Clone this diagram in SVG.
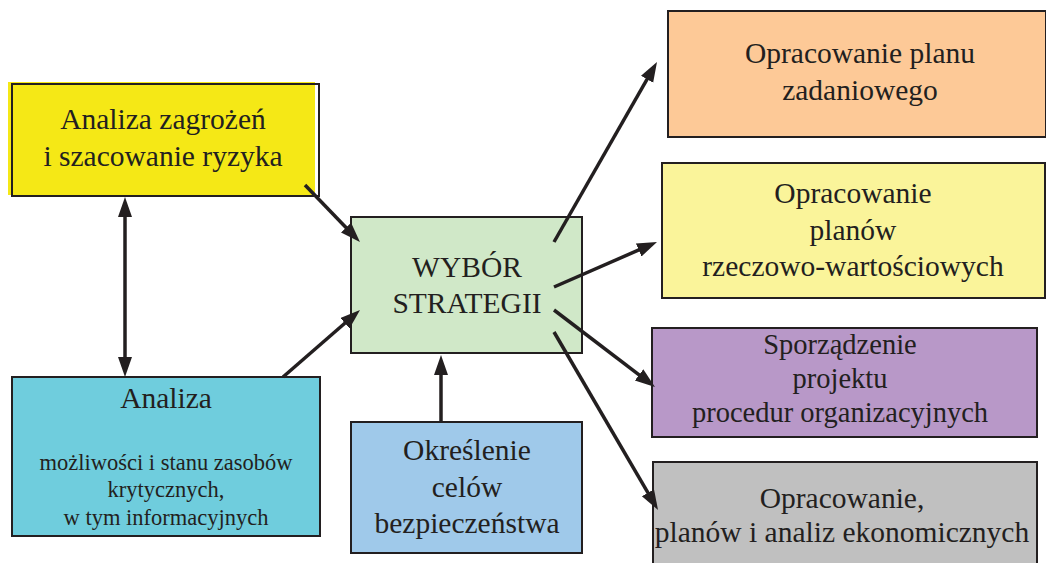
<svg xmlns="http://www.w3.org/2000/svg" width="1046" height="563" viewBox="0 0 1046 563">
<style>
.box{stroke:#231F20;stroke-width:2}
.t{font-family:"Liberation Serif","Times New Roman",serif;font-size:29.5px;fill:#231F20;text-anchor:middle}
.p{font-size:28.5px}
.s{font-family:"Liberation Serif","Times New Roman",serif;font-size:22.5px;fill:#231F20;text-anchor:middle}
.c{fill:none;stroke:#231F20;stroke-width:3.5}
</style>
<defs>
<marker id="ah" markerUnits="userSpaceOnUse" markerWidth="22" markerHeight="16" refX="12" refY="7" orient="auto-start-reverse">
<path d="M0,0 L20,7 L0,14 z" fill="#231F20"/>
</marker>
</defs>
<rect width="1046" height="563" fill="#fff"/>
<g id="n-analiza-zagrozen">
<rect x="8" y="82" width="307" height="113" fill="#F5E816"/>
<rect x="12" y="84" width="307" height="112" fill="none" class="box"/>
<text class="t" x="163" y="129">Analiza zagrożeń</text>
<text class="t" x="163" y="166">i szacowanie ryzyka</text>
</g>
<g id="n-analiza-mozliwosci">
<rect class="box" x="12" y="377" width="308" height="159" fill="#6FCDDD"/>
<text class="t" x="166" y="408">Analiza</text>
<text class="s" x="166" y="470">możliwości i stanu zasobów</text>
<text class="s" x="166" y="497">krytycznych,</text>
<text class="s" x="166" y="525">w tym informacyjnych</text>
</g>
<g id="n-wybor">
<rect class="box" x="351" y="217" width="231" height="136" fill="#D0E8C8"/>
<text class="t" x="467" y="277">WYBÓR</text>
<text class="t" x="467" y="313">STRATEGII</text>
</g>
<g id="n-okreslenie">
<rect class="box" x="351" y="422" width="231" height="131" fill="#9FC9EA"/>
<text class="t" x="467" y="460">Określenie</text>
<text class="t" x="467" y="497">celów</text>
<text class="t" x="467" y="533">bezpieczeństwa</text>
</g>
<g id="n-plan-zadaniowy">
<rect class="box" x="668" y="11" width="378" height="126" fill="#FDC997"/>
<text class="t" x="860" y="63">Opracowanie planu</text>
<text class="t" x="860" y="100">zadaniowego</text>
</g>
<g id="n-plany-rzeczowe">
<rect class="box" x="662" y="163" width="383" height="135" fill="#FAF49A"/>
<text class="t" x="853" y="203">Opracowanie</text>
<text class="t" x="853" y="240">planów</text>
<text class="t" x="853" y="276">rzeczowo-wartościowych</text>
</g>
<g id="n-procedury">
<rect class="box" x="652" y="328" width="385" height="109" fill="#B898C8"/>
<text class="t p" x="840" y="354">Sporządzenie</text>
<text class="t p" x="840" y="388">projektu</text>
<text class="t p" x="840" y="422">procedur organizacyjnych</text>
</g>
<g id="n-ekonomiczne">
<rect class="box" x="653" y="462" width="384" height="110" fill="#C0C0C0"/>
<text class="t" x="842" y="508">Opracowanie,</text>
<text class="t" x="842" y="542">planów i analiz ekonomicznych</text>
</g>
<g id="connectors">
<line class="c" x1="305" y1="185" x2="354.4" y2="236.2" marker-end="url(#ah)"/>
<line class="c" x1="283" y1="377" x2="354" y2="315.3" marker-end="url(#ah)"/>
<line class="c" x1="441" y1="422" x2="441" y2="363" marker-end="url(#ah)"/>
<line class="c" x1="125" y1="205" x2="125" y2="369" marker-start="url(#ah)" marker-end="url(#ah)"/>
<line class="c" x1="554" y1="242" x2="653" y2="68.9" marker-end="url(#ah)"/>
<line class="c" x1="554" y1="287" x2="649.7" y2="245.2" marker-end="url(#ah)"/>
<line class="c" x1="554" y1="310" x2="648.6" y2="382.2" marker-end="url(#ah)"/>
<line class="c" x1="554" y1="332" x2="654" y2="503.1" marker-end="url(#ah)"/>
</g>
</svg>
